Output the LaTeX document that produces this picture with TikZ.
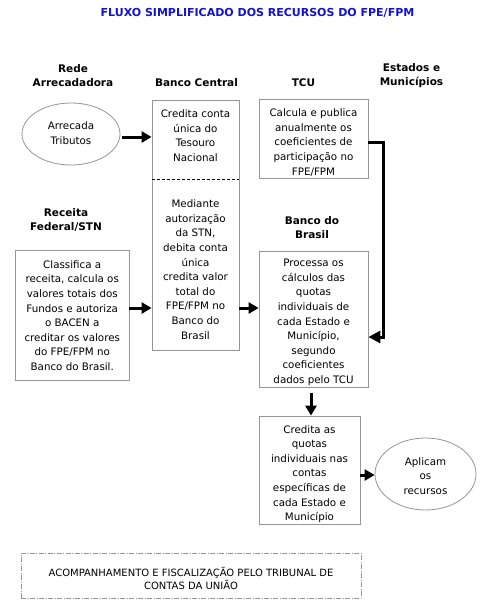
\documentclass[tikz,border=0pt]{standalone}
\usepackage{fontspec}
\setmainfont{DejaVu Sans}
\usetikzlibrary{arrows.meta,shapes.geometric}
\definecolor{boxgray}{RGB}{150,150,150}
\definecolor{titleblue}{RGB}{20,20,205}
\tikzset{
  txt/.style={font=\fontsize{10.3}{14.6}\selectfont, align=center, inner sep=0pt},
  hdr/.style={font=\fontsize{10.5}{14}\selectfont\bfseries, align=center, inner sep=0pt},
  pbox/.style={draw=boxgray, line width=0.8pt, rectangle, inner sep=0pt},
  pell/.style={draw=boxgray, line width=0.8pt, ellipse, inner sep=0pt},
  arr/.style={line width=3pt, -{Triangle[length=10pt,width=11pt]}},
}
\begin{document}
\begin{tikzpicture}[x=1pt,y=-1pt]
\useasboundingbox[fill=white] (0,0) rectangle (504,606);

% title
\node[hdr, text=titleblue, font=\fontsize{11}{13}\selectfont\bfseries] (title) at (257.5,13) {FLUXO SIMPLIFICADO DOS RECURSOS DO FPE/FPM};

% headers
\node[hdr] (hrede) at (73,76) {Rede\\Arrecadadora};
\node[hdr] (hbc) at (196.5,83) {Banco Central};
\node[hdr] (htcu) at (303.5,83) {TCU};
\node[hdr] (hest) at (411.5,76) {Estados e\\Municípios};
\node[hdr] (hrf) at (66,220) {Receita\\Federal/STN};
\node[hdr] (hbb) at (312,227.5) {Banco do\\Brasil};

% ellipse Arrecada
\node[pell, minimum width=98pt, minimum height=62pt] (arr) at (71,134) {};
\node[txt] (arrt) at (71,133) {Arrecada\\Tributos};

% Banco Central box
\node[pbox, minimum width=87pt, minimum height=250pt] (bc) at (195.5,225) {};
\node[txt] (bcup) at (195.5,135.5) {Credita conta\\única do\\Tesouro\\Nacional};
\node[txt] (bclow) at (195.5,269.5) {Mediante\\autorização\\da STN,\\debita conta\\única\\credita valor\\total do\\FPE/FPM no\\Banco do\\Brasil};
\draw[line width=0.8pt, dash pattern=on 3pt off 2pt] ([yshift=46pt]bc.west) -- ([yshift=46pt]bc.east);

% Classifica box
\node[pbox, minimum width=113.5pt, minimum height=130pt] (cl) at (72.25,315) {};
\node[txt] (clt) at (72.25,315.5) {Classifica a\\receita, calcula os\\valores totais dos\\Fundos e autoriza\\o BACEN a\\creditar os valores\\do FPE/FPM no\\Banco do Brasil.};

% TCU box
\node[pbox, minimum width=109pt, minimum height=79pt] (tcu) at (313.5,138.5) {};
\node[txt] (tcut) at (313.5,142.5) {Calcula e publica\\anualmente os\\coeficientes de\\participação no\\FPE/FPM};

% Banco do Brasil box
\node[pbox, minimum width=109pt, minimum height=136pt] (bb) at (313.5,319) {};
\node[txt] (bbt) at (313.5,322.5) {Processa os\\cálculos das\\quotas\\individuais de\\cada Estado e\\Município,\\segundo\\coeficientes\\dados pelo TCU};

% Credita box
\node[pbox, minimum width=101pt, minimum height=108pt] (cr) at (309.5,470) {};
\node[txt] (crt) at (309.5,474) {Credita as\\quotas\\individuais nas\\contas\\específicas de\\cada Estado e\\Município};

% Aplicam ellipse
\node[pell, minimum width=101pt, minimum height=72pt] (apl) at (425.5,474) {};
\node[txt] (aplt) at (425.5,476) {Aplicam\\os\\recursos};

% bottom box
\node[draw=boxgray, line width=0.7pt, dash pattern=on 5pt off 1.5pt on 1pt off 1.5pt, minimum width=340pt, minimum height=45pt, inner sep=0pt] (acomp) at (191,575.5) {};
\node[txt, font=\fontsize{10}{13}\selectfont] (acompt) at (191,578) {ACOMPANHAMENTO E FISCALIZAÇÃO PELO TRIBUNAL DE\\CONTAS DA UNIÃO};

% arrows
\draw[arr] ([xshift=2pt,yshift=-3pt]arr.east) -- ([yshift=88pt]bc.west);
\draw[arr] ([yshift=7pt]cl.east) -- ([yshift=-83pt]bc.west);
\draw[arr] ([yshift=-83pt]bc.east) -- ([yshift=11pt]bb.west);
\draw[line width=3pt, -{Triangle[length=12pt,width=12pt]}] ([yshift=-3.5pt]tcu.east) -- ++(15,0) |- ([yshift=-18pt]bb.east);
\draw[arr] ([xshift=-2.5pt,yshift=-6pt]bb.south) -- ([xshift=1.5pt]cr.north);
\draw[arr] ([yshift=-5pt]cr.east) -- ([yshift=-1pt]apl.west);
\end{tikzpicture}
\end{document}
